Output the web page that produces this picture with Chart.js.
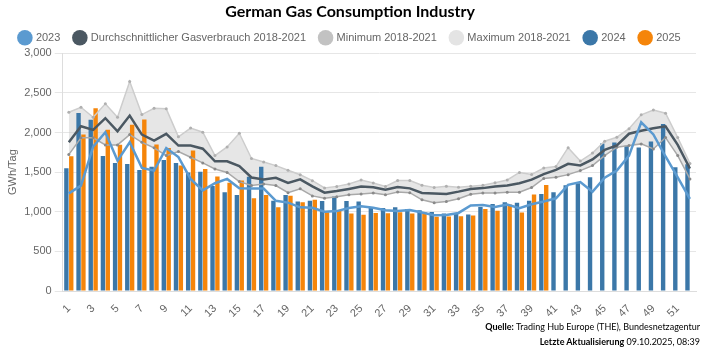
<!DOCTYPE html>
<html>
<head>
<meta charset="utf-8">
<script src="https://cdn.jsdelivr.net/npm/chart.js@4.4.1/dist/chart.umd.min.js"></script>
<style>
    html, body { margin: 0; padding: 0; background: #fff; }
    #wrap { position: relative; width: 703px; height: 351px; }
    .foot { position: absolute; right: 3px; font-family: Lato, "Liberation Sans", sans-serif; font-size: 9px; color: #000; white-space: nowrap; }
    .foot b { font-weight: bold; }
</style>
</head>
<body>
<div id="wrap">
    <canvas id="chart" width="703" height="351"></canvas>
    <div class="foot" style="top:321px"><b>Quelle:</b> Trading Hub Europe (THE), Bundesnetzagentur</div>
    <div class="foot" style="top:336px"><b>Letzte Aktualisierung</b> 09.10.2025, 08:39</div>
</div>
<script>
// week numbers on the x axis
var weeks = [1, 2, 3, 4, 5, 6, 7, 8, 9, 10, 11, 12, 13, 14, 15, 16, 17, 18, 19, 20, 21, 22, 23, 24, 25, 26,
    27, 28, 29, 30, 31, 32, 33, 34, 35, 36, 37, 38, 39, 40, 41, 42, 43, 44, 45, 46, 47, 48, 49, 50, 51, 52]

// GWh/Tag per week
var values2023 = [1232, 1329, 1822, 2003, 1645, 1876, 1553, 1519, 1803, 1690, 1414, 1270, 1360, 1414, 1295, 1292, 1292,
    1138, 1115, 1056, 1050, 1000, 1008, 1048, 1068, 1050, 1018, 1010, 1022, 990, 955, 960, 985, 1080, 1086,
    1060, 1092, 1045, 1095, 1130, 1170, 1340, 1375, 1252, 1430, 1520, 1708, 2129, 1975, 1697, 1435, 1161]

var average1821 = [1876, 2078, 2033, 2180, 2015, 2213, 1973, 1898, 1982, 1835, 1835, 1795, 1637, 1637, 1575, 1432, 1408,
    1428, 1364, 1408, 1320, 1240, 1262, 1288, 1317, 1309, 1278, 1313, 1295, 1237, 1230, 1225, 1254, 1288, 1298,
    1319, 1332, 1360, 1405, 1475, 1528, 1605, 1585, 1660, 1780, 1837, 1984, 2022, 2054, 2078, 1843, 1545]

var minimum1821 = [1721, 1932, 1932, 1843, 1843, 1973, 1876, 1806, 1708, 1760, 1687, 1616, 1540, 1495, 1380, 1330, 1350,
    1330, 1240, 1290, 1200, 1170, 1190, 1215, 1225, 1235, 1213, 1250, 1240, 1150, 1115, 1130, 1165, 1220, 1237,
    1237, 1245, 1245, 1305, 1420, 1435, 1468, 1519, 1582, 1708, 1814, 1835, 1856, 1792, 1936, 1708, 1414]

var maximum1821 = [2255, 2318, 2192, 2361, 2192, 2643, 2226, 2306, 2298, 1945, 2055, 2003, 1708, 1818, 1990, 1672, 1628,
    1582, 1524, 1466, 1392, 1300, 1320, 1351, 1401, 1362, 1320, 1393, 1393, 1335, 1305, 1323, 1309, 1322, 1334,
    1365, 1401, 1496, 1470, 1551, 1570, 1808, 1639, 1740, 1890, 1940, 2048, 2222, 2283, 2243, 1936, 1610]

var values2024 = [1548, 2247, 2159, 1704, 1616, 1603, 1528, 1569, 1654, 1616, 1494, 1506, 1325, 1245, 1210, 1443, 1569,
    1140, 1212, 1128, 1140, 1135, 1191, 1136, 1128, 1056, 1048, 1056, 1035, 1018, 998, 978, 970, 966, 1060,
    1098, 1119, 1115, 1140, 1224, 1245, 1335, 1360, 1435, 1860, 1873, 1833, 1810, 1886, 2108, 1561, 1600]

var values2025 = [1700, 1973, 2306, 2033, 1845, 2096, 2165, 1847, 1803, 1582, 1771, 1540, 1445, 1367, 1395, 1170, 1212,
    1056, 1203, 1119, 1150, 994, 1010, 977, 962, 985, 980, 993, 977, 993, 937, 940, 943, 953, 1035,
    1014, 1090, 991, 1216, 1338, null, null, null, null, null, null, null, null, null, null, null, null]

var yTicks = [0, 500, 1000, 1500, 2000, 2500, 3000]

var seriesNames = ["2023", "Durchschnittlicher Gasverbrauch 2018-2021", "Minimum 2018-2021", "Maximum 2018-2021", "2024", "2025"]
var seriesColours = ["#5b9ad0", "#4b5862", "#c2c2c2", "#e4e4e4", "#3b77a8", "#f5850a"]

var tickFont = { family: "'Liberation Sans', Arial, sans-serif", size: 11 }

var ctx = document.getElementById("chart").getContext("2d")

var chart = new Chart(ctx, {
    data: {
        labels: weeks,
        datasets: [
            {
                type: "line", label: seriesNames[0], data: values2023, order: 0,
                borderColor: "#5b9ad0", borderWidth: 2.5, pointRadius: 0, tension: 0, fill: false
            },
            {
                type: "line", label: seriesNames[1], data: average1821, order: 1,
                borderColor: "#4b5862", borderWidth: 2.5, pointRadius: 0, tension: 0, fill: false
            },
            {
                type: "line", label: seriesNames[2], data: minimum1821, order: 2,
                borderColor: "#a9a9a9", borderWidth: 1.5, pointRadius: 1.5,
                pointBackgroundColor: "#8a8a8a", pointBorderWidth: 0, tension: 0, fill: false
            },
            {
                type: "line", label: seriesNames[3], data: maximum1821, order: 3,
                borderColor: "#cdcdcd", borderWidth: 1.5, pointRadius: 1.5,
                pointBackgroundColor: "#b0b0b0", pointBorderWidth: 0, tension: 0,
                fill: { target: 2 }, backgroundColor: "rgba(200,200,200,0.45)"
            },
            {
                type: "bar", label: seriesNames[4], data: values2024, order: 10,
                backgroundColor: "#3b77a8", categoryPercentage: 0.8, barPercentage: 0.9
            },
            {
                type: "bar", label: seriesNames[5], data: values2025, order: 11,
                backgroundColor: "#f5850a", categoryPercentage: 0.8, barPercentage: 0.9
            }
        ]
    },
    options: {
        responsive: false,
        animation: false,
        layout: { padding: { left: 4, right: 7, top: 0, bottom: 28 } },
        plugins: {
            filler: { drawTime: "beforeDatasetsDraw" },
            tooltip: { enabled: false },
            title: {
                display: true,
                text: "German Gas Consumption Industry",
                color: "#000",
                font: { family: "Lato, 'Open Sans', sans-serif", size: 16, weight: "bold" },
                padding: { top: 2, bottom: -3 }
            },
            legend: {
                display: true,
                labels: {
                    usePointStyle: true,
                    color: "#666",
                    font: { family: "'Liberation Sans', Arial, sans-serif", size: 11 },
                    padding: 14,
                    boxHeight: 11,
                    generateLabels: function (chart) {
                        return seriesNames.map(function (name, i) {
                            return {
                                text: name, fillStyle: seriesColours[i], strokeStyle: seriesColours[i],
                                lineWidth: 0, pointStyle: "circle", datasetIndex: i, hidden: false, fontColor: "#666"
                            }
                        })
                    }
                }
            }
        },
        scales: {
            x: {
                grid: { display: false },
                border: { color: "#ddd" },
                ticks: {
                    autoSkip: false, minRotation: 45, maxRotation: 45, color: "#666", font: tickFont,
                    callback: function (value, index) {
                        return index % 2 == 0 ? weeks[index] : ""
                    }
                }
            },
            y: {
                min: 0, max: 3000,
                afterBuildTicks: function (axis) {
                    axis.ticks = yTicks.map(function (v) { return { value: v } })
                },
                grid: { color: "#e6e6e6" },
                border: { color: "#ddd" },
                ticks: {
                    color: "#666", font: tickFont,
                    callback: function (value) { return value.toLocaleString("en-US") }
                },
                title: { display: true, text: "GWh/Tag", color: "#666", font: tickFont, padding: 2 }
            }
        }
    }
})
</script>
</body>
</html>
